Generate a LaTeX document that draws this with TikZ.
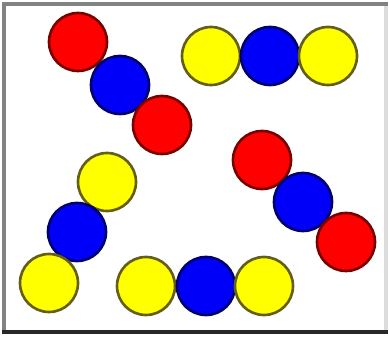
\documentclass[tikz,border=0pt]{standalone}
\usepackage{tikz}
\usetikzlibrary{backgrounds}
\definecolor{ink}{RGB}{40,40,40}
\definecolor{framegray}{RGB}{130,130,130}
\definecolor{frameedge}{RGB}{220,220,220}
\definecolor{beadred}{RGB}{255,0,0}
\definecolor{beadblue}{RGB}{0,0,250}
\definecolor{beadyellow}{RGB}{255,255,0}
\definecolor{rededge}{RGB}{120,0,0}
\definecolor{blueedge}{RGB}{0,0,110}
\definecolor{yellowedge}{RGB}{100,95,20}
\tikzset{
    bead/.style={
        circle,
        minimum size=1.16cm,
        inner sep=0pt,
        line width=1.5pt
    },
    redbead/.style={bead, fill=beadred, draw=rededge},
    bluebead/.style={bead, fill=beadblue, draw=blueedge},
    yellowbead/.style={bead, fill=beadyellow, draw=yellowedge},
    frameline/.style={line width=2.4pt, line cap=rect}
}
\begin{document}
\begin{tikzpicture}[x=0.02cm, y=-0.02cm]
\useasboundingbox (0,0) rectangle (389,337);
\fill[white] (0,0) rectangle (389,337);

% Frame
\draw[frameline, draw=frameedge] (386,4) -- (386,332);
\draw[frameline, draw=framegray] (4,332) -- (4,4) -- (386,4);
\draw[frameline, draw=ink] (4,332) -- (386,332);

% Top left chain
\node[redbead] (r1) at (78,42) {};
\node[bluebead] (b1) at (120,85) {};
\node[redbead] (r2) at (162,125) {};

% Top row
\node[yellowbead] (y1) at (211,56) {};
\node[bluebead] (b2) at (270,56) {};
\node[yellowbead] (y2) at (328,56) {};

% Right chain
\node[redbead] (r3) at (262,160) {};
\node[bluebead] (b3) at (303,202) {};
\node[redbead] (r4) at (346,242) {};

% Left chain
\node[yellowbead] (y3) at (107,182) {};
\node[bluebead] (b4) at (77,232) {};
\node[yellowbead] (y4) at (49,283) {};

% Bottom row
\node[yellowbead] (y5) at (146,286) {};
\node[bluebead] (b5) at (206,286) {};
\node[yellowbead] (y6) at (264,286) {};
\end{tikzpicture}
\end{document}
